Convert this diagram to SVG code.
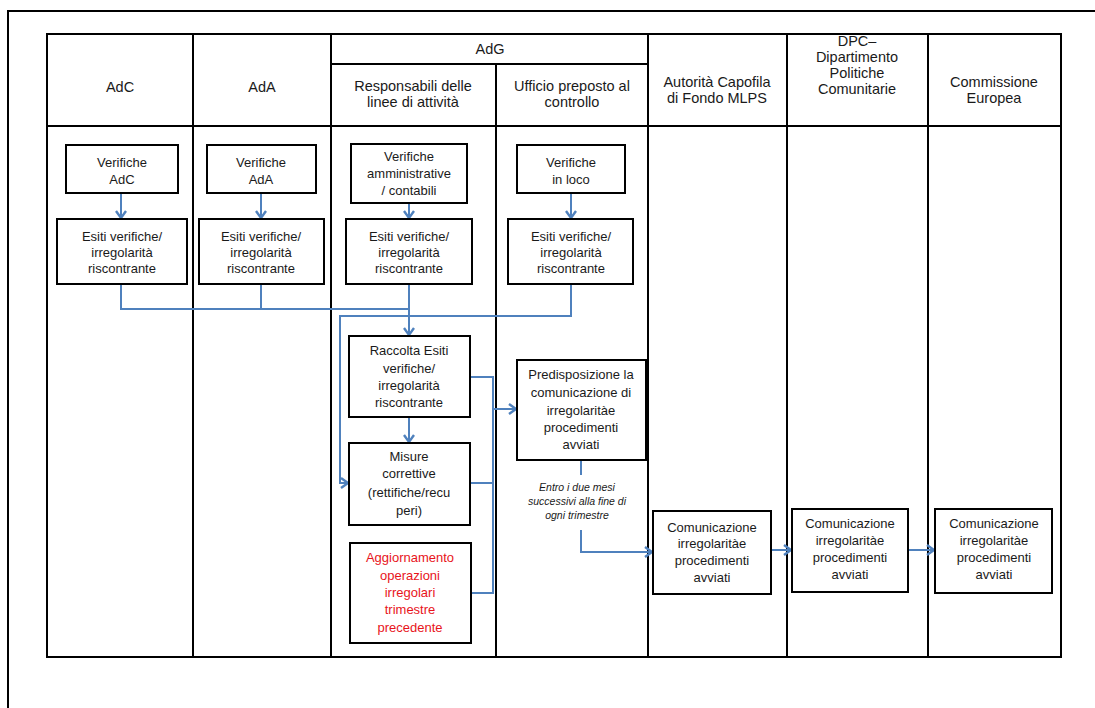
<svg xmlns="http://www.w3.org/2000/svg" width="1095" height="708" viewBox="0 0 1095 708">
<defs>
<marker id="arr" markerUnits="userSpaceOnUse" markerWidth="14" markerHeight="14" refX="9" refY="6" orient="auto">
<path d="M2,1 L9,6 L2,11" fill="none" stroke="#4f81bd" stroke-width="2.4"/>
</marker>
<style>
.grid{stroke:#000;stroke-width:2;fill:none}
.box{fill:#fff;stroke:#000;stroke-width:2}
.t{font-family:"Liberation Sans",Arial,sans-serif;font-size:13px;fill:#1a1a1a;text-anchor:middle}
.h{font-family:"Liberation Sans",Arial,sans-serif;font-size:14.5px;fill:#1a1a1a;text-anchor:middle}
.red{fill:#e8141b}
.it{font-family:"Liberation Sans",Arial,sans-serif;font-size:10.5px;font-style:italic;fill:#1a1a1a;text-anchor:middle}
.c{fill:none;stroke:#4f81bd;stroke-width:2}
.ca{fill:none;stroke:#4f81bd;stroke-width:2;marker-end:url(#arr)}
</style>
</defs>
<rect x="0" y="0" width="1095" height="708" fill="#fff"/>
<g id="frame">
<rect class="grid" x="8" y="11" width="1100" height="710"/>
<rect class="grid" x="47" y="34" width="1014" height="623"/>
<line class="grid" x1="193" y1="34" x2="193" y2="657"/>
<line class="grid" x1="331" y1="34" x2="331" y2="657"/>
<line class="grid" x1="496" y1="64" x2="496" y2="657"/>
<line class="grid" x1="648" y1="34" x2="648" y2="657"/>
<line class="grid" x1="787" y1="34" x2="787" y2="657"/>
<line class="grid" x1="928" y1="34" x2="928" y2="657"/>
<line class="grid" x1="331" y1="64" x2="648" y2="64"/>
<line class="grid" x1="47" y1="126" x2="1061" y2="126"/>
</g>
<g id="headers">
<text class="h" x="120" y="92">AdC</text>
<text class="h" x="262" y="92">AdA</text>
<text class="h" x="490" y="54">AdG</text>
<text class="h" x="413" y="91">Responsabili delle</text>
<text class="h" x="413" y="107">linee di attività</text>
<text class="h" x="572" y="91">Ufficio preposto al</text>
<text class="h" x="572" y="107">controllo</text>
<text class="h" x="717" y="87">Autorità Capofila</text>
<text class="h" x="717" y="103">di Fondo MLPS</text>
<text class="h" x="857" y="46">DPC–</text>
<text class="h" x="857" y="62">Dipartimento</text>
<text class="h" x="857" y="78">Politiche</text>
<text class="h" x="857" y="94">Comunitarie</text>
<text class="h" x="994" y="87">Commissione</text>
<text class="h" x="994" y="103">Europea</text>
</g>
<g id="connectors">
<path class="ca" d="M121,193 V218"/>
<path class="ca" d="M261,193 V218"/>
<path class="ca" d="M409,203 V218"/>
<path class="ca" d="M571,193 V218"/>
<path class="c" d="M121,284 V309 H409"/>
<path class="c" d="M261,284 V309"/>
<path class="ca" d="M409,284 V335"/>
<path class="ca" d="M571,284 V316 H340 V483 H348"/>
<path class="ca" d="M409,417 V442"/>
<path class="c" d="M470,377 H493 V593 H471"/>
<path class="c" d="M470,483 H493"/>
<path class="ca" d="M493,409 H516"/>
<path class="c" d="M581,460 V475"/>
<path class="ca" d="M581,530 V552 H652"/>
<path class="ca" d="M771,550 H791"/>
<path class="ca" d="M908,550 H934"/>
</g>
<g id="n_ver_adc"><rect class="box" x="66" y="145" width="112" height="48"/>
<text class="t" x="122" y="167">Verifiche</text><text class="t" x="122" y="184">AdC</text></g>
<g id="n_esiti_adc"><rect class="box" x="57" y="219" width="130" height="65"/>
<text class="t" x="122" y="241">Esiti verifiche/</text><text class="t" x="122" y="257">irregolarità</text><text class="t" x="122" y="273">riscontrante</text></g>
<g id="n_ver_ada"><rect class="box" x="207" y="145" width="109" height="48"/>
<text class="t" x="261" y="167">Verifiche</text><text class="t" x="261" y="184">AdA</text></g>
<g id="n_esiti_ada"><rect class="box" x="199" y="219" width="125" height="65"/>
<text class="t" x="261" y="241">Esiti verifiche/</text><text class="t" x="261" y="257">irregolarità</text><text class="t" x="261" y="273">riscontrante</text></g>
<g id="n_ver_amm"><rect class="box" x="351" y="144" width="116" height="59"/>
<text class="t" x="409" y="161">Verifiche</text><text class="t" x="409" y="178">amministrative</text><text class="t" x="409" y="195">/ contabili</text></g>
<g id="n_esiti_resp"><rect class="box" x="346" y="219" width="126" height="65"/>
<text class="t" x="409" y="241">Esiti verifiche/</text><text class="t" x="409" y="257">irregolarità</text><text class="t" x="409" y="273">riscontrante</text></g>
<g id="n_ver_loco"><rect class="box" x="517" y="145" width="108" height="48"/>
<text class="t" x="571" y="167">Verifiche</text><text class="t" x="571" y="184">in loco</text></g>
<g id="n_esiti_uff"><rect class="box" x="508" y="219" width="125" height="65"/>
<text class="t" x="571" y="241">Esiti verifiche/</text><text class="t" x="571" y="257">irregolarità</text><text class="t" x="571" y="273">riscontrante</text></g>
<g id="n_raccolta"><rect class="box" x="349" y="336" width="121" height="81"/>
<text class="t" x="409" y="355">Raccolta Esiti</text><text class="t" x="409" y="373">verifiche/</text><text class="t" x="409" y="390">irregolarità</text><text class="t" x="409" y="407">riscontrante</text></g>
<g id="n_misure"><rect class="box" x="349" y="443" width="121" height="82"/>
<text class="t" x="409" y="461">Misure</text><text class="t" x="409" y="478">correttive</text><text class="t" x="409" y="497">(rettifiche/recu</text><text class="t" x="409" y="515">peri)</text></g>
<g id="n_aggiornamento"><rect class="box" x="350" y="543" width="121" height="100"/>
<text class="t red" x="410" y="562">Aggiornamento</text><text class="t red" x="410" y="580">operazioni</text><text class="t red" x="410" y="597">irregolari</text><text class="t red" x="410" y="614">trimestre</text><text class="t red" x="410" y="632">precedente</text></g>
<g id="n_predisposizione"><rect class="box" x="517" y="360" width="129" height="100"/>
<text class="t" x="581" y="379">Predisposizione la</text><text class="t" x="581" y="397">comunicazione di</text><text class="t" x="581" y="415">irregolaritàe</text><text class="t" x="581" y="432">procedimenti</text><text class="t" x="581" y="449">avviati</text></g>
<g id="l_entro">
<text class="it" x="577" y="491">Entro i due mesi</text><text class="it" x="577" y="505">successivi alla fine di</text><text class="it" x="577" y="519">ogni trimestre</text></g>
<g id="n_com1"><rect class="box" x="653" y="511" width="118" height="83"/>
<text class="t" x="712" y="532">Comunicazione</text><text class="t" x="712" y="548">irregolaritàe</text><text class="t" x="712" y="565">procedimenti</text><text class="t" x="712" y="582">avviati</text></g>
<g id="n_com2"><rect class="box" x="792" y="509" width="116" height="83"/>
<text class="t" x="850" y="528">Comunicazione</text><text class="t" x="850" y="545">irregolaritàe</text><text class="t" x="850" y="562">procedimenti</text><text class="t" x="850" y="579">avviati</text></g>
<g id="n_com3"><rect class="box" x="935" y="509" width="117" height="84"/>
<text class="t" x="994" y="528">Comunicazione</text><text class="t" x="994" y="545">irregolaritàe</text><text class="t" x="994" y="562">procedimenti</text><text class="t" x="994" y="579">avviati</text></g>
</svg>
